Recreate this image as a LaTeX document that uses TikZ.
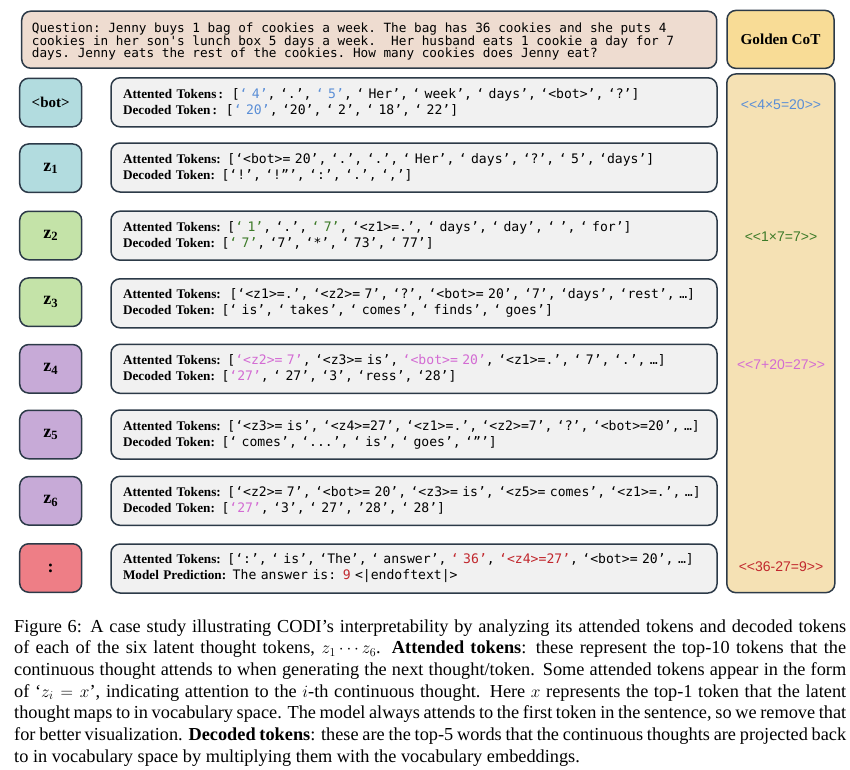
\documentclass[tikz,border=0pt]{standalone}
\usepackage{fontspec}
\setmainfont{Liberation Serif}
\setmonofont{DejaVu Sans Mono}
\newfontfamily\cotfont{Liberation Sans}
\definecolor{edge}{HTML}{2C3A48}
\definecolor{qfill}{HTML}{EEDCD0}
\definecolor{boxgray}{HTML}{F1F1F1}
\definecolor{cteal}{HTML}{B2DCDF}
\definecolor{cgreen}{HTML}{C4E3A8}
\definecolor{cpurple}{HTML}{C7AAD7}
\definecolor{cred}{HTML}{EE7E86}
\definecolor{goldhead}{HTML}{F8DC96}
\definecolor{goldcol}{HTML}{F5E1B4}
\definecolor{tokblue}{HTML}{5A8ED6}
\definecolor{tokgreen}{HTML}{3C7A28}
\definecolor{tokpink}{HTML}{D36BD3}
\definecolor{tokred}{HTML}{C1272D}
\newcommand\attn{\textbf{Attented Tokens:}}
\newcommand\dect{\textbf{Decoded Token:}}
\newcommand\mono[1]{{\ttfamily\fontsize{13.1}{16}\selectfont #1}}
\newcommand\capline[1]{\makebox[832pt][s]{#1}}
\begin{document}
\begin{tikzpicture}[x=1pt,y=-1pt,
  frame/.style={draw=edge, line width=1.5pt, rounded corners=9pt},
  lbl/.style={frame, minimum width=62pt, minimum height=48.5pt, inner sep=0pt, font=\bfseries\fontsize{15}{18}\selectfont},
  zlbl/.style={lbl, font=\bfseries\fontsize{18}{20}\selectfont},
  tbox/.style={frame, fill=boxgray, minimum height=49pt, text width=582pt, inner xsep=12pt, inner ysep=0pt, align=left, font=\fontsize{13.2}{16}\selectfont},
  qline/.style={anchor=base west, inner sep=0pt, font=\ttfamily\fontsize{12.7}{12.4}\selectfont},
  cot/.style={font=\cotfont\fontsize{14}{16}\selectfont},
  capl/.style={anchor=base west, inner sep=0pt, font=\fontsize{18.3}{21.7}\selectfont}
]
\useasboundingbox (0,0) rectangle (850,769);

% question
\node[frame, fill=qfill, minimum width=695pt, minimum height=57pt, inner sep=0pt] (q) at (369.2,39.7) {};
\node[qline] (qt1) at (31.7,32.6) {Question: Jenny buys 1 bag of cookies a week. The bag has 36 cookies and she puts 4};
\node[qline] (qt2) at (31.7,45.0) {cookies in her son's lunch box 5 days a week. \ Her husband eats 1 cookie a day for 7};
\node[qline] (qt3) at (31.7,57.2) {days. Jenny eats the rest of the cookies. How many cookies does Jenny eat?};

% golden CoT
\node[frame, fill=goldhead, minimum width=107pt, minimum height=58pt, inner sep=0pt, font=\bfseries\fontsize{15.2}{18}\selectfont] (gh) at (780.5,39.4) {Golden CoT};
\node[frame, fill=goldcol, minimum width=108pt, minimum height=518.7pt, inner sep=0pt] (gc) at (780.8,333.3) {};
\node[cot, text=tokblue] (g1) at (781,104.3) {<<4×5=20>>};
\node[cot, text=tokgreen] (g2) at (781,236.7) {<<1×7=7>>};
\node[cot, text=tokpink] (g3) at (781,364.3) {<<7+20=27>>};
\node[cot, text=tokred] (g4) at (781,566.7) {<<36-27=9>>};

% labels
\node[lbl, fill=cteal] (l0) at (50.7,102.5) {<bot>};
\node[zlbl, fill=cteal] (l1) at (50.7,168.2) {z\textsubscript{1}};
\node[zlbl, fill=cgreen] (l2) at (50.7,235.5) {z\textsubscript{2}};
\node[zlbl, fill=cgreen] (l3) at (50.7,302.2) {z\textsubscript{3}};
\node[zlbl, fill=cpurple] (l4) at (50.7,368.8) {z\textsubscript{4}};
\node[zlbl, fill=cpurple] (l5) at (50.7,434.5) {z\textsubscript{5}};
\node[zlbl, fill=cpurple] (l6) at (50.7,500.8) {z\textsubscript{6}};
\node[zlbl, fill=cred] (l7) at (50.7,568) {:};

% token boxes
\node[tbox] (t0) at (414,102.3) {%
\mbox{\textbf{Attented Tokens\,:}\ \ \mono{[\textcolor{tokblue}{‘ 4’}, ‘.’, \textcolor{tokblue}{‘ 5’}, ‘ Her’, ‘ week’, ‘ days’, ‘<bot>’, ‘?’]}}\\
\mbox{\textbf{Decoded Token\,:}\ \ \mono{[\textcolor{tokblue}{‘ 20’}, ‘20’, ‘ 2’, ‘ 18’, ‘ 22’]}}};
\node[tbox] (t1) at (414,167.5) {%
\mbox{\attn{} \mono{[‘<bot>= 20’, ‘.’, ‘.’, ‘ Her’, ‘ days’, ‘?’, ‘ 5’, ‘days’]}}\\
\mbox{\dect{} \mono{[‘!’, ‘!”’, ‘:’, ‘.’, ‘,’]}}};
\node[tbox] (t2) at (414,235.7) {%
\mbox{\attn{} \mono{[\textcolor{tokgreen}{‘ 1’}, ‘.’, \textcolor{tokgreen}{‘ 7’}, ‘<z1>=.’, ‘ days’, ‘ day’, ‘ ’, ‘ for’]}}\\
\mbox{\dect{} \mono{[\textcolor{tokgreen}{‘ 7’}, ‘7’, ‘*’, ‘ 73’, ‘ 77’]}}};
\node[tbox] (t3) at (414,303.3) {%
\mbox{\attn\ \ \mono{[‘<z1>=.’, ‘<z2>= 7’, ‘?’, ‘<bot>= 20’, ‘7’, ‘days’, ‘rest’, …]}}\\
\mbox{\dect{} \mono{[‘ is’, ‘ takes’, ‘ comes’, ‘ finds’, ‘ goes’]}}};
\node[tbox] (t4) at (414,368.8) {%
\mbox{\attn{} \mono{[\textcolor{tokpink}{‘<z2>= 7’}, ‘<z3>= is’, \textcolor{tokpink}{‘<bot>= 20’}, ‘<z1>=.’, ‘ 7’, ‘.’, …]}}\\
\mbox{\dect{} \mono{[\textcolor{tokpink}{‘27’}, ‘ 27’, ‘3’, ‘ress’, ‘28’]}}};
\node[tbox] (t5) at (414,434.5) {%
\mbox{\attn{} \mono{[‘<z3>= is’, ‘<z4>=27’, ‘<z1>=.’, ‘<z2>=7’, ‘?’, ‘<bot>=20’, …]}}\\
\mbox{\dect{} \mono{[‘ comes’, ‘...’, ‘ is’, ‘ goes’, ‘”’]}}};
\node[tbox] (t6) at (414,500.8) {%
\mbox{\attn{} \mono{[‘<z2>= 7’, ‘<bot>= 20’, ‘<z3>= is’, ‘<z5>= comes’, ‘<z1>=.’, …]}}\\
\mbox{\dect{} \mono{[\textcolor{tokpink}{‘27’}, ‘3’, ‘ 27’, ’28’, ‘ 28’]}}};
\node[tbox] (t7) at (414,568.5) {%
\mbox{\attn{} \mono{[‘:’, ‘ is’, ‘The’, ‘ answer’, \textcolor{tokred}{‘ 36’}, \textcolor{tokred}{‘<z4>=27’}, ‘<bot>= 20’, …]}}\\
\mbox{\textbf{Model Prediction:} \mono{The answer is: \textcolor{tokred}{9} <|endoftext|>}}};

% caption
\node[capl] (c1) at (14,632) {\capline{Figure 6: A case study illustrating CODI’s interpretability by analyzing its attended tokens and decoded tokens}};
\node[capl] (c2) at (14,653.7) {\capline{of each of the six latent thought tokens, $z_1\cdots z_6$. \textbf{Attended tokens}: these represent the top-10 tokens that the}};
\node[capl] (c3) at (14,675.4) {\capline{continuous thought attends to when generating the next thought/token. Some attended tokens appear in the form}};
\node[capl] (c4) at (14,697.1) {\capline{of ‘$z_i = x$’, indicating attention to the $i$-th continuous thought. Here $x$ represents the top-1 token that the latent}};
\node[capl] (c5) at (14,718.8) {\capline{thought maps to in vocabulary space. The model always attends to the first token in the sentence, so we remove that}};
\node[capl] (c6) at (14,740.5) {\capline{for better visualization. \textbf{Decoded tokens}: these are the top-5 words that the continuous thoughts are projected back}};
\node[capl] (c7) at (14,762.2) {to in vocabulary space by multiplying them with the vocabulary embeddings.};
\end{tikzpicture}
\end{document}
